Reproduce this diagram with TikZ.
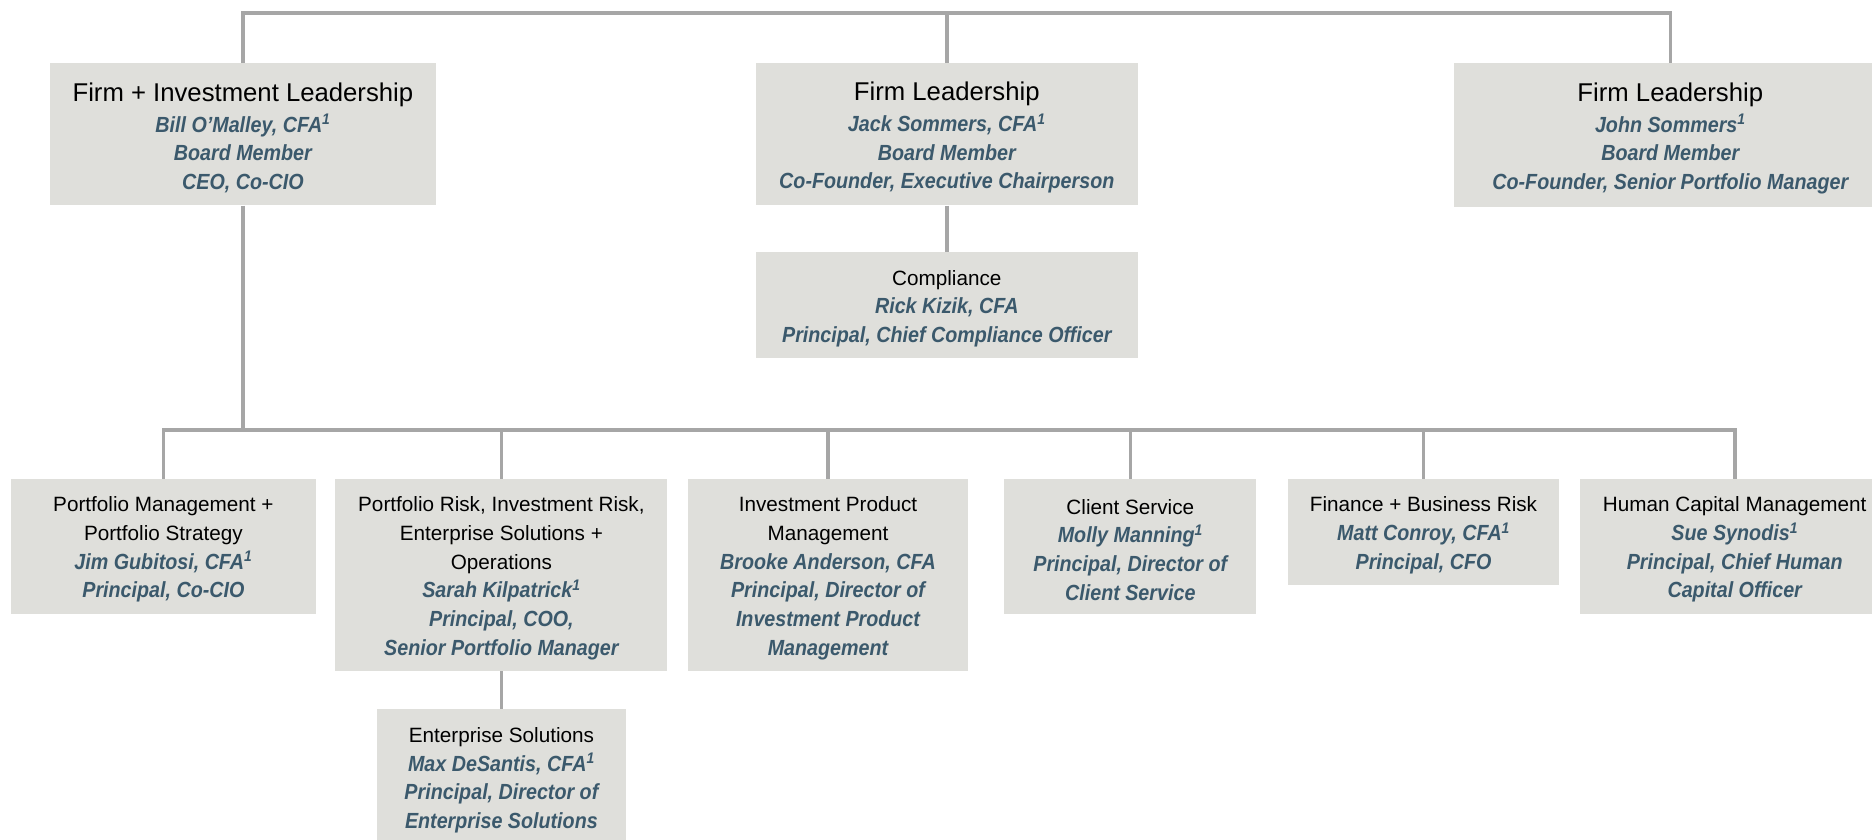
\documentclass[tikz,border=0pt]{standalone}
\usepackage{fontspec}
\setmainfont{Liberation Sans}
\newfontfamily\namefont[FakeStretch=0.9]{Liberation Sans}
\definecolor{boxgray}{RGB}{223,223,219}
\definecolor{nameblue}{RGB}{59,89,108}
\definecolor{linegray}{RGB}{166,166,166}
\newcommand{\nm}[1]{{\fontsize{21.9}{28.7}\namefont\bfseries\itshape\color{nameblue}#1}}
\newcommand{\sone}{\textsuperscript{1}}
\newcommand{\bigt}[1]{{\fontsize{25.7}{30}\selectfont #1}}
\tikzset{
  orgbox/.style={fill=boxgray, draw=none, inner sep=0pt},
  orgtext/.style={inner sep=0pt, align=center, font=\fontsize{20.7}{28.7}\selectfont},
  conn/.style={draw=linegray, line width=3.6pt},
}
% #1 name, #2 position, #3 width, #4 height, #5 text
\newcommand{\orgnode}[5]{%
  \node[orgbox, minimum width=#3pt, minimum height=#4pt] (#1) at (#2) {};
  \node[orgtext] (#1-t) at ([yshift=-3.5pt]#1.center) {#5};
}
\begin{document}
\begin{tikzpicture}[x=1pt,y=-1pt]
\useasboundingbox (0,0) rectangle (1872,840);
\clip (0,0) rectangle (1872,840);
\coordinate (top) at (0,13);
\coordinate (mid) at (0,429.8);

\orgnode{fil}{242.9,134.4}{385.7}{142.1}
  {\bigt{Firm + Investment Leadership}\\[2pt]
   \nm{Bill O’Malley, CFA\sone}\\ \nm{Board Member}\\ \nm{CEO, Co-CIO}}
\orgnode{fl}{946.8,134.4}{382.1}{142.1}
  {\bigt{Firm Leadership}\\[2pt]
   \nm{Jack Sommers, CFA\sone}\\ \nm{Board Member}\\ \nm{Co-Founder, Executive Chairperson}}
\orgnode{fl3}{1670.3,134.9}{432.2}{143.2}
  {\bigt{Firm Leadership}\\[2pt]
   \nm{John Sommers\sone}\\ \nm{Board Member}\\ \nm{Co-Founder, Senior Portfolio Manager}}
\orgnode{comp}{946.8,305}{382.1}{106.3}
  {Compliance\\ \nm{Rick Kizik, CFA}\\ \nm{Principal, Chief Compliance Officer}}

\orgnode{b1}{163.4,546.2}{304.5}{134.9}
  {Portfolio Management +\\ Portfolio Strategy\\ \nm{Jim Gubitosi, CFA\sone}\\ \nm{Principal, Co-CIO}}
\orgnode{b2}{501.4,574.9}{331.9}{192.2}
  {Portfolio Risk, Investment Risk,\\ Enterprise Solutions +\\ Operations\\
   \nm{Sarah Kilpatrick\sone}\\ \nm{Principal, COO,}\\ \nm{Senior Portfolio Manager}}
\orgnode{b3}{828,574.9}{280.6}{192.2}
  {Investment Product\\ Management\\ \nm{Brooke Anderson, CFA}\\
   \nm{Principal, Director of}\\ \nm{Investment Product}\\ \nm{Management}}
\orgnode{b4}{1130.3,546.2}{252}{134.9}
  {Client Service\\ \nm{Molly Manning\sone}\\ \nm{Principal, Director of}\\ \nm{Client Service}}
\orgnode{b5}{1423.5,531.9}{271.1}{106.2}
  {Finance + Business Risk\\ \nm{Matt Conroy, CFA\sone}\\ \nm{Principal, CFO}}
\orgnode{b6}{1734.7,546.2}{310.4}{134.9}
  {Human Capital Management\\ \nm{Sue Synodis\sone}\\ \nm{Principal, Chief Human}\\ \nm{Capital Officer}}
\orgnode{b7}{501.4,776.7}{248.3}{135}
  {Enterprise Solutions\\ \nm{Max DeSantis, CFA\sone}\\ \nm{Principal, Director of}\\ \nm{Enterprise Solutions}}

\draw[conn] (fil.north) -- (fil.north |- top) -- (fl3.north |- top) -- (fl3.north);
\draw[conn] (fl.north) -- (fl.north |- top);
\draw[conn] (fl.south) -- (comp.north);
\draw[conn] (fil.south) -- (fil.south |- mid);
\draw[conn] (b1.north) -- (b1.north |- mid) -- (b6.north |- mid) -- (b6.north);
\draw[conn] (b2.north) -- (b2.north |- mid);
\draw[conn] (b3.north) -- (b3.north |- mid);
\draw[conn] (b4.north) -- (b4.north |- mid);
\draw[conn] (b5.north) -- (b5.north |- mid);
\draw[conn] (b2.south) -- (b7.north);
\end{tikzpicture}
\end{document}
